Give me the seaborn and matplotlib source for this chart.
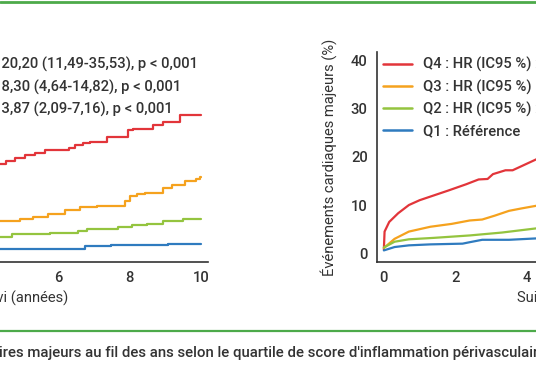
import matplotlib
matplotlib.use("Agg")
import matplotlib.pyplot as plt
from matplotlib.lines import Line2D
import seaborn as sns
import pandas as pd

# colours per quartile
quartiles = ["Q4", "Q3", "Q2", "Q1"]
colors = ["#e2353a", "#f5a21e", "#94c43f", "#2f7bbf"]

# left panel: Kaplan-Meier steps (only the visible part, years ~4.3-10)
left_labels = [
    "Q4 : HR (IC95 %) : 20,20 (11,49-35,53), p < 0,001",
    "Q3 : HR (IC95 %) : 8,30 (4,64-14,82), p < 0,001",
    "Q2 : HR (IC95 %) : 3,87 (2,09-7,16), p < 0,001",
    "Q1 : Référence",
]
left_q4_x = [4.30, 4.55, 4.79, 5.07, 5.35, 5.63, 6.30, 6.47, 6.70, 6.89, 7.36, 7.95, 8.10, 8.65, 8.92, 9.40, 10.0]
left_q4_y = [18.6, 19.2, 19.7, 20.3, 20.8, 21.3, 21.8, 22.4, 22.8, 23.1, 24.1, 25.5, 25.8, 26.5, 27.2, 28.6, 28.6]
left_q3_x = [4.30, 4.93, 5.30, 5.71, 6.19, 6.61, 7.08, 7.86, 8.00, 8.20, 8.42, 8.92, 9.18, 9.54, 9.87, 9.96, 10.0]
left_q3_y = [6.7, 7.2, 7.5, 8.2, 8.9, 9.5, 9.7, 10.8, 11.8, 12.2, 12.5, 13.5, 14.1, 14.9, 15.3, 15.8, 15.8]
left_q2_x = [4.30, 4.71, 5.77, 6.55, 6.80, 7.67, 8.06, 8.50, 8.93, 9.48, 10.0]
left_q2_y = [3.4, 4.1, 4.3, 4.6, 5.1, 5.5, 5.8, 6.0, 6.7, 7.2, 7.2]
left_q1_x = [4.30, 6.75, 7.47, 9.06, 10.0]
left_q1_y = [0.9, 1.45, 1.7, 2.0, 2.0]

# right panel: curves (visible part, years 0-4.3)
right_labels = [
    "Q4 : HR (IC95 %) :",
    "Q3 : HR (IC95 %) :",
    "Q2 : HR (IC95 %) :",
    "Q1 : Référence",
]
right_q4_x = [0, 0.02, 0.15, 0.4, 0.7, 1.0, 1.4, 1.8, 2.3, 2.65, 2.9, 3.05, 3.4, 3.6, 4.3]
right_q4_y = [0.8, 4.5, 6.5, 8.3, 10.0, 11.0, 12.0, 13.0, 14.3, 15.3, 15.4, 16.4, 17.2, 17.2, 19.6]
right_q3_x = [0, 0.3, 0.7, 1.3, 1.9, 2.4, 2.75, 3.1, 3.5, 3.85, 4.3]
right_q3_y = [1.1, 3.0, 4.5, 5.5, 6.1, 6.8, 7.0, 7.8, 8.8, 9.3, 9.9]
right_q2_x = [0, 0.3, 0.7, 1.4, 2.4, 3.3, 4.3]
right_q2_y = [1.2, 2.4, 2.9, 3.2, 3.7, 4.3, 5.2]
right_q1_x = [0, 0.3, 0.7, 1.3, 2.2, 2.4, 2.75, 3.5, 4.3]
right_q1_y = [0.6, 1.3, 1.65, 1.85, 2.0, 2.3, 2.8, 2.8, 3.1]

x_ticks = [0, 2, 4, 6, 8, 10]
y_ticks = [0, 10, 20, 30, 40]

TXT = "#333333"
FS = 10.6


def make_df(xs, ys, labels):
    rows = []
    for x, y, lab in zip(xs, ys, labels):
        rows.append(pd.DataFrame({"x": x, "y": y, "label": lab}))
    return pd.concat(rows, ignore_index=True)


def style_axis(ax):
    ax.set_xlim(-0.2, 10.2)
    ax.set_ylim(-1.8, 41.7)
    ax.set_xticks(x_ticks)
    ax.set_yticks(y_ticks)
    sns.despine(ax=ax)
    for s in ["left", "bottom"]:
        ax.spines[s].set_color(TXT)
        ax.spines[s].set_linewidth(1.2)
    ax.tick_params(colors=TXT, labelsize=FS, length=3.5, width=1.1, pad=3)
    ax.set_xlabel("Suivi (années)", fontsize=FS, color=TXT, labelpad=4)
    ax.set_ylabel("Événements cardiaques majeurs (%)", fontsize=FS, color=TXT, labelpad=10)
    sns.move_legend(
        ax, loc="upper left", bbox_to_anchor=(0.017, 0.975), frameon=False,
        title=None, borderpad=0, borderaxespad=0, handlelength=2.0,
        handletextpad=0.7, labelspacing=0.48, fontsize=FS, labelcolor=TXT,
    )
    for line in ax.get_legend().get_lines():
        line.set_linewidth(1.8)


def main():
    sns.set_theme(style="white")
    plt.rcParams["font.family"] = ["Roboto", "DejaVu Sans"]
    plt.rcParams["font.weight"] = 500

    fig = plt.figure(figsize=(5.36, 3.86), dpi=100)
    w, h = 372 / 536, 210 / 386
    ax1 = fig.add_axes([-163.7 / 536, 124 / 386, w, h])
    ax2 = fig.add_axes([376.7 / 536, 124 / 386, w, h])

    df_left = make_df([left_q4_x, left_q3_x, left_q2_x, left_q1_x],
                      [left_q4_y, left_q3_y, left_q2_y, left_q1_y], left_labels)
    sns.lineplot(data=df_left, x="x", y="y", hue="label", hue_order=left_labels,
                 palette=colors, drawstyle="steps-post", linewidth=1.6,
                 estimator=None, ax=ax1)
    style_axis(ax1)

    df_right = make_df([right_q4_x, right_q3_x, right_q2_x, right_q1_x],
                       [right_q4_y, right_q3_y, right_q2_y, right_q1_y], right_labels)
    sns.lineplot(data=df_right, x="x", y="y", hue="label", hue_order=right_labels,
                 palette=colors, linewidth=1.6, estimator=None, ax=ax2)
    style_axis(ax2)

    # green frame rules and caption
    green = "#4daa4a"
    fig.add_artist(Line2D([0, 1], [1 - 1.5 / 386] * 2, transform=fig.transFigure, color=green, lw=2))
    fig.add_artist(Line2D([0, 1], [1 - 331 / 386] * 2, transform=fig.transFigure, color=green, lw=1.6))
    fig.text(-1 / 536, 1 - 353 / 386,
             "ires majeurs au fil des ans selon le quartile de score d'inflammation périvasculaire",
             ha="left", va="center", fontsize=10.8, color=TXT)

    fig.savefig("out.png", dpi=100)


if __name__ == "__main__":
    main()
